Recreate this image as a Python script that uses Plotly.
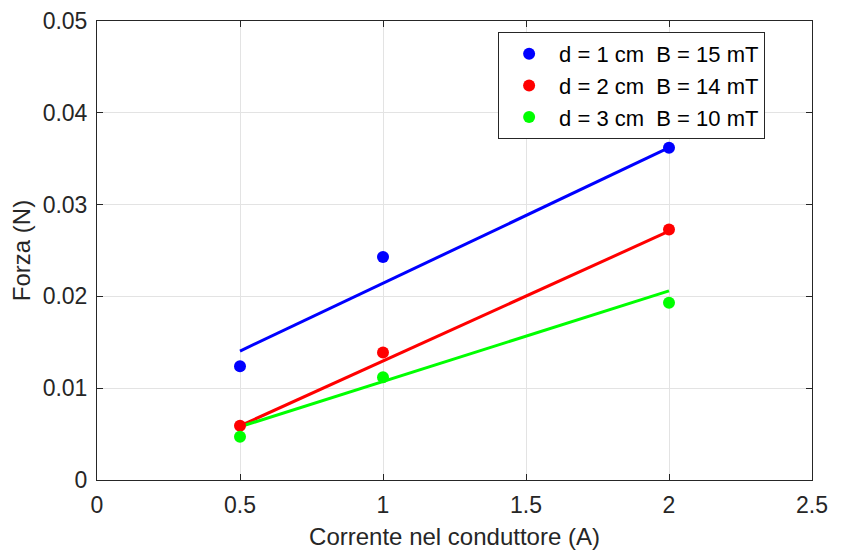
import plotly.graph_objects as go

# Measured data
current = [0.5, 1, 2]
force_d1 = [0.0124, 0.0243, 0.0362]
force_d2 = [0.0059, 0.0139, 0.0273]
force_d3 = [0.0047, 0.0112, 0.0193]

# Fit line endpoints
fit_x = [0.5, 2]
fit_d1 = [0.01405, 0.0362]
fit_d2 = [0.0059, 0.0271]
fit_d3 = [0.0058, 0.0206]

labels = ["d = 1 cm\u00a0\u00a0B = 15 mT", "d = 2 cm\u00a0\u00a0B = 14 mT", "d = 3 cm\u00a0\u00a0B = 10 mT"]
colors = ["#0000FF", "#FF0000", "#00FF00"]

x_ticks = [0, 0.5, 1, 1.5, 2, 2.5]
x_ticktext = ["0", "0.5", "1", "1.5", "2", "2.5"]
y_ticks = [0, 0.01, 0.02, 0.03, 0.04, 0.05]
y_ticktext = ["0", "0.01", "0.02", "0.03", "0.04", "0.05"]

fig = go.Figure()
for fy, c in zip([fit_d1, fit_d2, fit_d3], colors):
    fig.add_trace(go.Scatter(x=fit_x, y=fy, mode="lines", line=dict(color=c, width=3),
                             showlegend=False, hoverinfo="skip"))
for ys, c, lab in zip([force_d1, force_d2, force_d3], colors, labels):
    fig.add_trace(go.Scatter(x=current, y=ys, mode="markers", name=lab,
                             marker=dict(color=c, size=12)))

font_family = "Liberation Sans, Arial, sans-serif"
axis_common = dict(showline=True, linecolor="#262626", linewidth=1, mirror="ticks",
                   ticks="inside", ticklen=6, tickcolor="#262626", automargin=False,
                   showgrid=True, gridcolor="#e3e3e3", gridwidth=1, zeroline=False,
                   tickfont=dict(size=23, color="#262626", family=font_family))

fig.update_layout(
    width=843, height=550,
    margin=dict(l=89, r=39, t=13, b=78),
    plot_bgcolor="white", paper_bgcolor="white",
    font=dict(family=font_family, color="#262626"),
    xaxis=dict(range=[0, 2.5], tickvals=x_ticks, ticktext=x_ticktext, ticklabelstandoff=4,
               title=dict(text="Corrente nel conduttore (A)", font=dict(size=24, color="#262626"), standoff=11),
               **axis_common),
    yaxis=dict(range=[0, 0.05], tickvals=y_ticks, ticktext=y_ticktext, ticklabelstandoff=4,
               title=dict(text="Forza (N)", font=dict(size=24, color="#262626"), standoff=5),
               **axis_common),
    legend=dict(x=0.561, y=0.976, xanchor="left", yanchor="top",
                bordercolor="#262626", borderwidth=1, bgcolor="white",
                font=dict(size=22, color="black", family=font_family),
                itemwidth=50, tracegroupgap=0),
)

fig.write_html("out.html")
